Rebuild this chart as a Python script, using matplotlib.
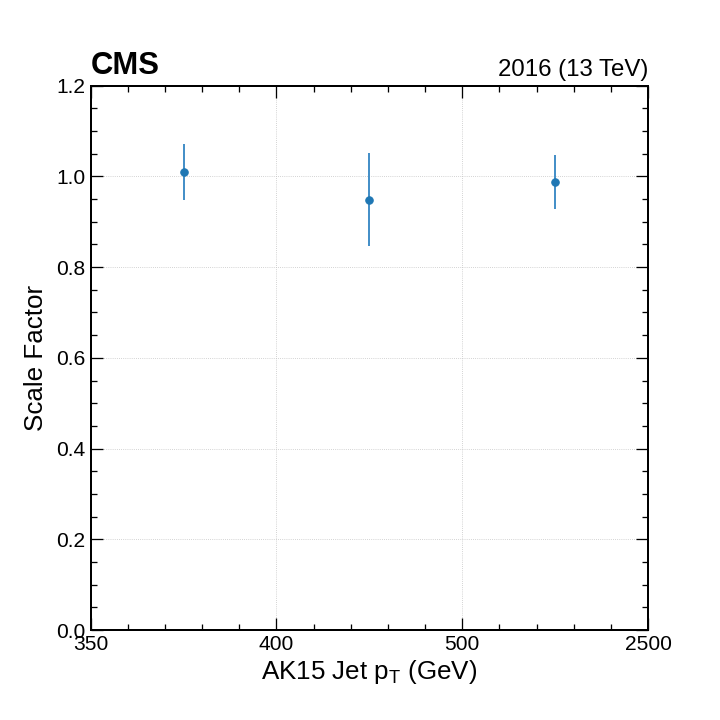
import numpy as np
import matplotlib
matplotlib.use('Agg')
import matplotlib.pyplot as plt
from matplotlib.ticker import MultipleLocator, FixedLocator

# bins de pT (rótulos) e fatores de escala
bordas_pt = ['350', '400', '500', '2500']
sf = [1.010, 0.949, 0.988]
sf_err = [0.062, 0.102, 0.060]

plt.rcParams['font.family'] = ['Liberation Sans', 'DejaVu Sans']

fig = plt.figure(figsize=(10, 10), dpi=72)
ax = fig.add_axes([0.126, 0.125, 0.774, 0.756])

x = np.arange(len(sf)) + 0.5
ax.errorbar(x, sf, yerr=sf_err, fmt='o', color='#1f77b4', ecolor='#4690c8',
            markersize=7.5, elinewidth=2, capsize=0, zorder=3)

ax.set_xlim(0, len(bordas_pt) - 1)
ax.set_ylim(0, 1.2)
ax.xaxis.set_major_locator(FixedLocator(np.arange(len(bordas_pt))))
ax.set_xticklabels(bordas_pt)
ax.xaxis.set_minor_locator(MultipleLocator(0.2))
ax.yaxis.set_major_locator(MultipleLocator(0.2))
ax.yaxis.set_minor_locator(MultipleLocator(0.05))

ax.tick_params(which='both', direction='in', top=True, right=True, labelsize=21, width=1.3)
ax.tick_params(which='major', length=12, pad=5)
ax.tick_params(which='minor', length=6)
for s in ax.spines.values():
    s.set_linewidth(2)

ax.grid(True, which='major', linestyle=':', color='#c0c0c0', linewidth=0.8)

ax.set_xlabel(r'AK15 Jet $\mathregular{p_T}$ (GeV)', fontsize=26, labelpad=4)
ax.set_ylabel('Scale Factor', fontsize=26, labelpad=8)

ax.text(0.0, 1.008, 'CMS', transform=ax.transAxes, fontsize=31, fontweight='bold',
        ha='left', va='bottom')
ax.text(1.0, 1.008, '2016 (13 TeV)', transform=ax.transAxes, fontsize=24,
        ha='right', va='bottom')

plt.savefig('out.png', dpi=72)
